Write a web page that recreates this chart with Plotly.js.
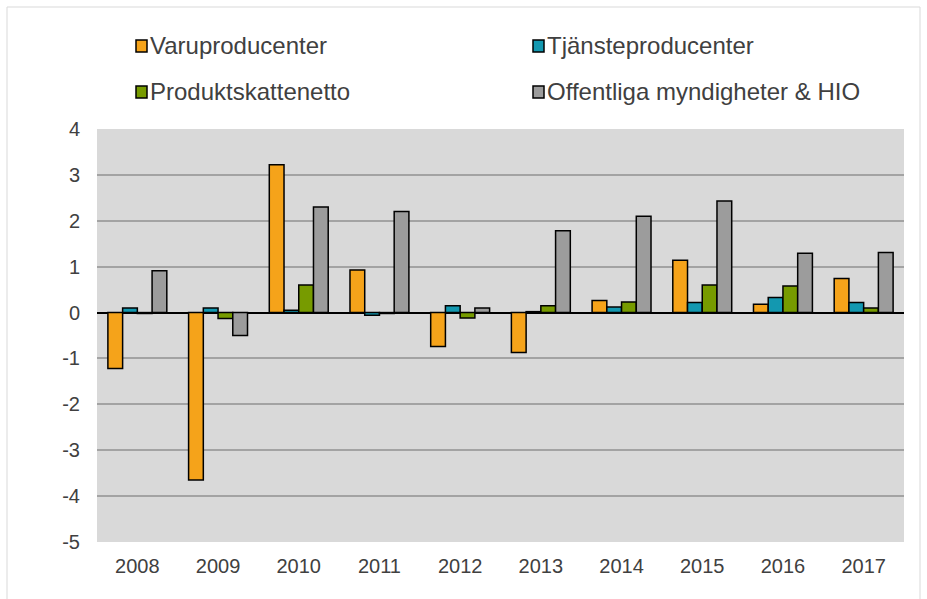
<!DOCTYPE html>
<html><head><meta charset="utf-8">
<script src="https://cdn.plot.ly/plotly-3.0.1.min.js"></script>
<style>body{margin:0;background:#fff}#c{width:927px;height:599px}</style>
</head><body><div id="c"></div>
<script>
const years = ['2008','2009','2010','2011','2012','2013','2014','2015','2016','2017'];
const varuproducenter = [-1.22,-3.65,3.22,0.93,-0.74,-0.87,0.26,1.14,0.18,0.74];
const tjansteproducenter = [0.1,0.1,0.05,-0.06,0.15,0.02,0.12,0.22,0.33,0.22];
const produktskattenetto = [-0.02,-0.13,0.6,-0.02,-0.12,0.15,0.23,0.6,0.58,0.1];
const offentliga = [0.91,-0.5,2.3,2.2,0.1,1.78,2.1,2.43,1.29,1.31];
const names = ['Varuproducenter','Tjänsteproducenter','Produktskattenetto','Offentliga myndigheter & HIO'];
const colors = ['#F5A31A','#1398B0','#779B00','#9C9C9C'];
const yTickVals = [4,3,2,1,0,-1,-2,-3,-4,-5];
const yTickText = ['4','3','2','1','0','-1','-2','-3','-4','-5'];
const series = [varuproducenter,tjansteproducenter,produktskattenetto,offentliga];

const W=927,H=599,L=97,R=23,T=129,B=57;
const pw=W-L-R, ph=H-T-B;
const px=x=>(x-L)/pw, py=y=>(H-B-y)/ph;

const data = series.map((s,i)=>({type:'bar',x:years,y:s,name:names[i],showlegend:false,
  marker:{color:colors[i],line:{color:'#000',width:1.5}}}));

// legend positions (pixels): two columns, two rows
const legPos = [[135,46],[532,46],[135,92],[532,92]];
const shapes=[{type:'rect',xref:'paper',yref:'paper',x0:px(7),x1:px(920),y0:py(620),y1:py(7),
    line:{color:'#D9D9D9',width:1},fillcolor:'rgba(0,0,0,0)',layer:'below'}];
const annotations=[];
names.forEach((n,i)=>{
  const [sx,sy]=legPos[i];
  shapes.push({type:'rect',xref:'paper',yref:'paper',x0:px(sx+1),x1:px(sx+12),y0:py(sy+6),y1:py(sy-6),
    fillcolor:colors[i],line:{color:'#000',width:1.5}});
  annotations.push({xref:'paper',yref:'paper',x:px(sx+13),y:py(sy),xanchor:'left',yanchor:'middle',
    text:n,showarrow:false,font:{size:24,color:'#404040'}});
});

const layout = {
  width:W,height:H,
  margin:{l:L,r:R,t:T,b:B},
  paper_bgcolor:'#fff',plot_bgcolor:'#D9D9D9',
  font:{family:'Liberation Sans, Arial, sans-serif',size:20,color:'#404040'},
  barmode:'group',bargap:0.27,bargroupgap:0,
  showlegend:false,
  xaxis:{type:'category',showgrid:false,zeroline:false,showline:false,ticks:'',
    ticklabelstandoff:10,tickfont:{size:20,color:'#404040'}},
  yaxis:{range:[-5,4],tickmode:'array',tickvals:yTickVals,ticktext:yTickText,
    showgrid:true,gridcolor:'#A3A3A3',gridwidth:1.5,
    zeroline:true,zerolinecolor:'#000',zerolinewidth:2,showline:false,ticks:'',
    ticklabelstandoff:16,tickfont:{size:20,color:'#404040'}},
  shapes:shapes,annotations:annotations
};
Plotly.newPlot('c',data,layout,{displayModeBar:false});
</script></body></html>
